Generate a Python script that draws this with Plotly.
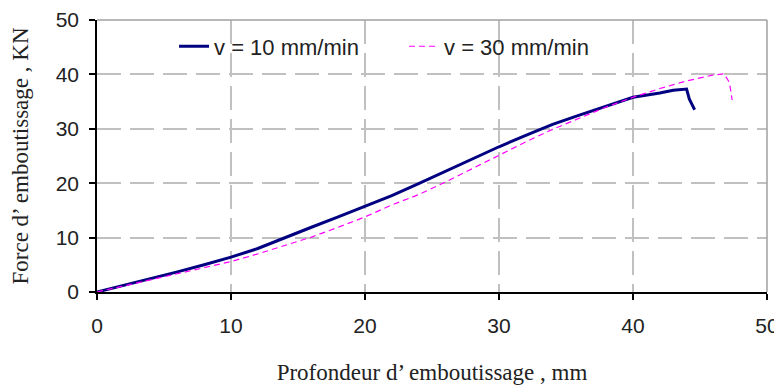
"""
Force d'emboutissage vs profondeur, two punch speeds.
"""

import plotly.graph_objects as go

# v = 10 mm/min
depth_10 = [0, 2, 4, 6, 8, 10, 12, 12.5, 14, 16, 18, 20, 22, 24, 26, 28, 30,
            32, 34, 36, 38, 40, 42, 43, 44, 44.2, 44.4, 44.6]
force_10 = [0, 1.2, 2.4, 3.7, 5.0, 6.4, 8.0, 8.5, 9.9, 11.9, 13.8, 15.7, 17.7,
            19.9, 22.2, 24.5, 26.7, 28.8, 30.8, 32.5, 34.2, 35.8, 36.6, 37.1,
            37.3, 35.5, 34.5, 33.5]

# v = 30 mm/min
depth_30 = [0, 2, 4, 6, 8, 10, 12, 14, 16, 18, 20, 22, 24, 26, 28, 30, 32, 34,
            36, 38, 40, 42, 44, 45, 46, 46.8, 47.2, 47.4]
force_30 = [0, 1.1, 2.2, 3.3, 4.4, 5.6, 7.0, 8.5, 10.1, 11.9, 13.8, 16.0, 17.9,
            20.2, 22.7, 25.2, 27.6, 29.9, 32.0, 34.0, 35.8, 37.4, 38.8, 39.4,
            39.9, 40.1, 38.5, 35.3]

ticks = [0, 10, 20, 30, 40, 50]

SANS = "Liberation Sans, Arial, sans-serif"
SERIF = "Liberation Serif, Times New Roman, serif"
GRID = "#c0c0c0"

fig = go.Figure()
fig.add_trace(go.Scatter(
    x=depth_10, y=force_10, mode="lines", name="v = 10 mm/min",
    line=dict(color="#000080", width=3),
))
fig.add_trace(go.Scatter(
    x=depth_30, y=force_30, mode="lines", name="v = 30 mm/min",
    line=dict(color="#ff00ff", width=1.2, dash="6px,4px"),
))

axis_common = dict(
    tickvals=ticks, automargin=False,
    showgrid=True, gridcolor=GRID, gridwidth=1.5, griddash="24px,9px",
    showline=True, linecolor="#000000", linewidth=1.5,
    ticks="outside", ticklen=6, tickcolor="#000000", tickwidth=1.5,
    tickfont=dict(family=SANS, size=21, color="#222222"),
    zeroline=False,
)

fig.update_xaxes(
    range=[0, 50], ticklabelstandoff=8, **axis_common,
    title=dict(text="Profondeur d\u2019 emboutissage , mm",
               font=dict(family=SERIF, size=23, color="#222222"), standoff=28),
)
fig.update_yaxes(
    range=[0, 50], ticklabelstandoff=6, **axis_common,
    title=dict(text="Force d\u2019 emboutissage , KN",
               font=dict(family=SERIF, size=23, color="#222222"), standoff=25),
)

# grey frame on top and right of the plot area
fig.add_shape(type="line", xref="paper", yref="paper", x0=0, x1=1, y0=1, y1=1,
              line=dict(color="#a0a0a0", width=1.5))
fig.add_shape(type="line", xref="paper", yref="paper", x0=1, x1=1, y0=0, y1=1,
              line=dict(color="#a0a0a0", width=1.5))

# the page body adds an 8px margin, so the figure is sized to fit the window
fig.update_layout(
    width=774, height=382,
    margin=dict(l=89, r=15, t=12, b=98),
    plot_bgcolor="white", paper_bgcolor="white",
    legend=dict(
        orientation="h", x=0.115, y=0.98, xanchor="left", yanchor="top",
        entrywidth=185,
        bgcolor="rgba(0,0,0,0)",
        font=dict(family=SANS, size=22, color="#222222"),
    ),
)

fig.write_html("out.html")
